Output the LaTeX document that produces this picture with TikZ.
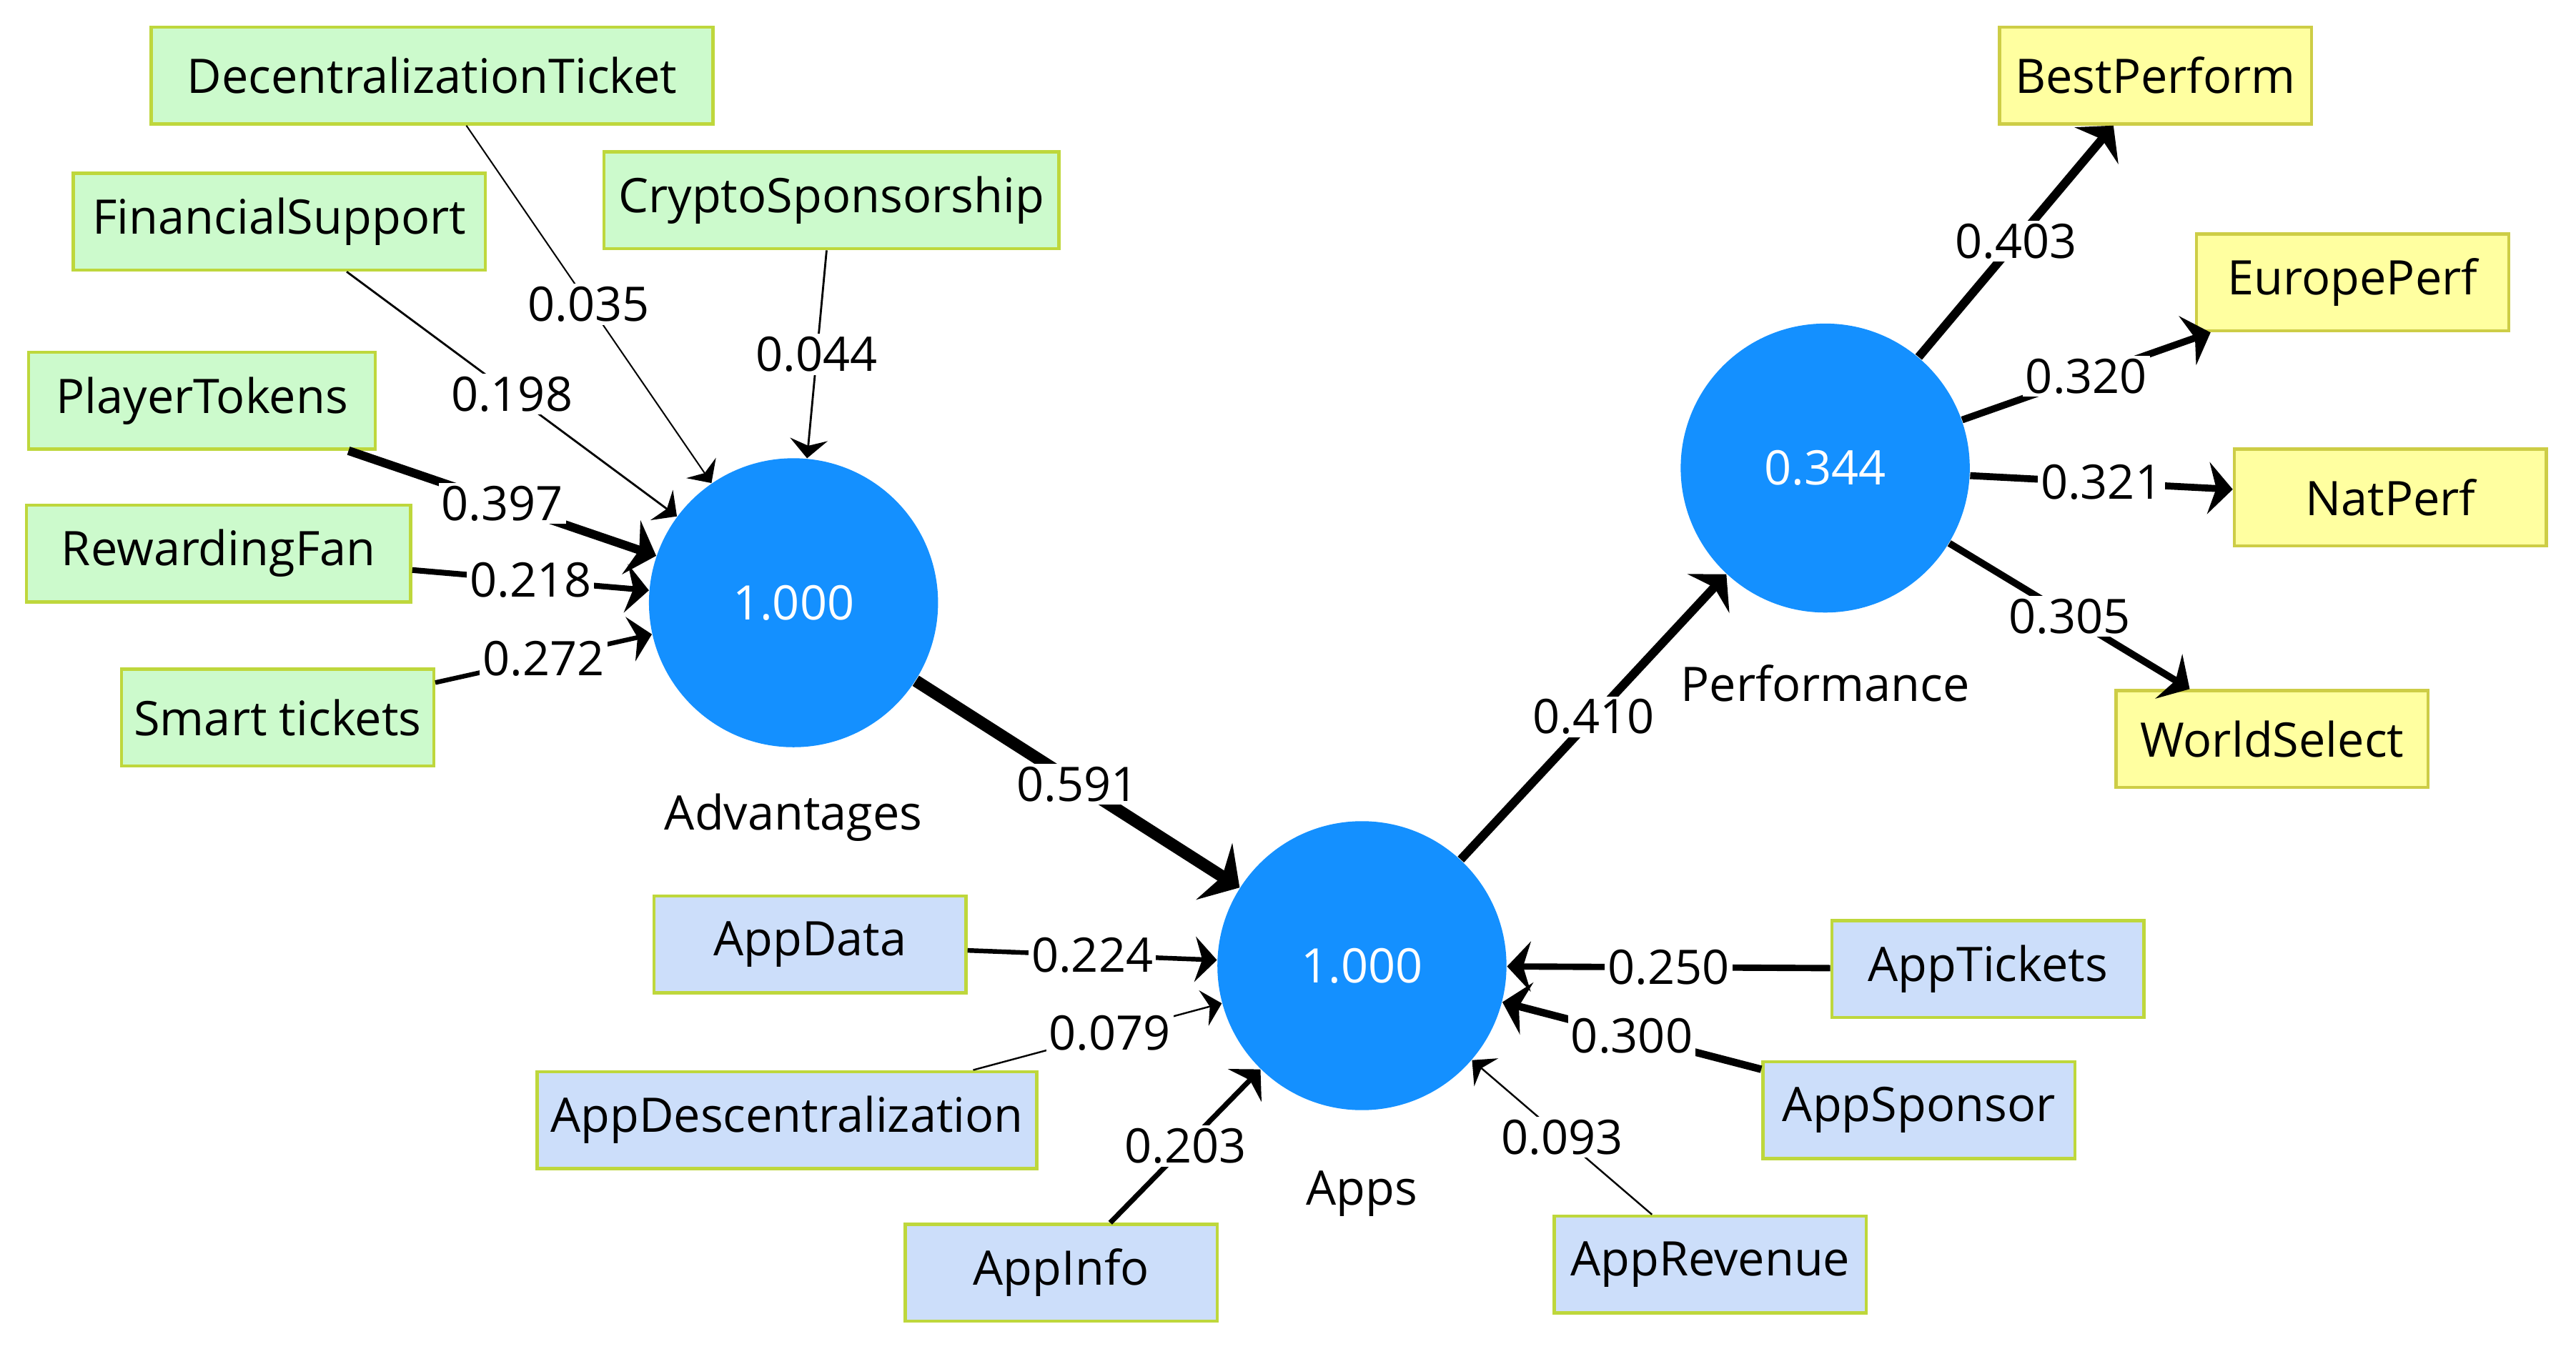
\documentclass[tikz,border=0pt]{standalone}
\usepackage{fontspec}
\setmainfont{Open Sans}
\usepackage{tikz}
\usetikzlibrary{arrows.meta}
\definecolor{latentblue}{RGB}{20,144,255}
\definecolor{advgreen}{RGB}{204,250,204}
\definecolor{appblue}{RGB}{204,222,250}
\definecolor{perfyellow}{RGB}{255,255,160}
\definecolor{boxedge}{RGB}{190,215,60}
\definecolor{perfedge}{RGB}{205,205,70}

\begin{document}
\begin{tikzpicture}[x=0.02cm, y=0.02cm,
  font=\fontsize{16.5}{20}\selectfont,
  item/.style={draw=boxedge, line width=1.1pt, minimum width=#1, minimum height=1.18cm, inner xsep=0.1cm},
  item/.default=3.8cm,
  latent/.style={circle, fill=latentblue, text=white, minimum size=3.52cm, inner sep=0pt},
  lnk/.style={line width=#1, -{Stealth[length=5.8pt 1.1, width=11pt 2.9, inset=2pt 0.3]}},
  wt/.style={fill=white, inner sep=1pt}]
  \useasboundingbox (0,0) rectangle (1568,827.5);

  % Constructs
  \node[latent] (adv) at (483,460.5) {1.000};
  \node[latent] (apps) at (829,239.5) {1.000};
  \node[latent] (perf) at (1111,542.5) {0.344};
  \node (advname) at (483,329.5) {Advantages};
  \node (appsname) at (829,100.5) {Apps};
  \node (perfname) at (1111,411.5) {Performance};

  % Advantages indicators
  \node[item=6.84cm, fill=advgreen] (dec) at (263,781.5) {DecentralizationTicket};
  \node[item=5.02cm, fill=advgreen] (fin) at (170,692.5) {FinancialSupport};
  \node[item=5.54cm, fill=advgreen] (cry) at (506,705.5) {CryptoSponsorship};
  \node[item=4.22cm, fill=advgreen] (ply) at (123,583.5) {PlayerTokens};
  \node[item=4.68cm, fill=advgreen] (rew) at (133,490.5) {RewardingFan};
  \node[item, fill=advgreen] (smt) at (169,390.5) {Smart tickets};

  % Apps indicators
  \node[item, fill=appblue] (adata) at (493,252.5) {AppData};
  \node[item=6.08cm, fill=appblue] (adesc) at (479,145.5) {AppDescentralization};
  \node[item, fill=appblue] (ainfo) at (646,52.5) {AppInfo};
  \node[item, fill=appblue] (atick) at (1210,237.5) {AppTickets};
  \node[item, fill=appblue] (aspon) at (1168,151.5) {AppSponsor};
  \node[item, fill=appblue] (arev) at (1041,57.5) {AppRevenue};

  % Performance indicators
  \node[item, draw=perfedge, fill=perfyellow] (best) at (1312,781.5) {BestPerform};
  \node[item, draw=perfedge, fill=perfyellow] (eur) at (1432,655.5) {EuropePerf};
  \node[item, draw=perfedge, fill=perfyellow] (nat) at (1455,524.5) {NatPerf};
  \node[item, draw=perfedge, fill=perfyellow] (wld) at (1383,377.5) {WorldSelect};

  % Outer weights into Advantages
  \draw[lnk=0.5pt] (dec) -- node[wt] {0.035} (adv);
  \draw[lnk=0.7pt] (fin) -- node[wt] {0.198} (adv);
  \draw[lnk=0.7pt] (cry) -- node[wt] {0.044} (adv);
  \draw[lnk=3pt] (ply) -- node[wt] {0.397} (adv);
  \draw[lnk=2pt] (rew) -- node[wt] {0.218} (adv);
  \draw[lnk=1.6pt] (smt) -- node[wt] {0.272} (adv);

  % Outer weights into Apps
  \draw[lnk=1.6pt] (adata) -- node[wt] {0.224} (apps);
  \draw[lnk=0.6pt] (adesc) -- node[wt, pos=0.55] {0.079} (apps);
  \draw[lnk=1.8pt] (ainfo) -- node[wt] {0.203} (apps);
  \draw[lnk=2.2pt] (atick) -- node[wt] {0.250} (apps);
  \draw[lnk=2.6pt] (aspon) -- node[wt] {0.300} (apps);
  \draw[lnk=0.6pt] (arev) -- node[wt] {0.093} (apps);

  % Inner paths
  \draw[lnk=4.2pt] (adv) -- node[wt] {0.591} (apps);
  \draw[lnk=3pt] (apps) -- node[wt] {0.410} (perf);

  % Loadings of Performance
  \draw[lnk=3pt] (perf) -- node[wt] {0.403} (best);
  \draw[lnk=2.4pt] (perf) -- node[wt] {0.320} (eur);
  \draw[lnk=2.4pt] (perf) -- node[wt] {0.321} (nat);
  \draw[lnk=2.4pt] (perf) -- node[wt] {0.305} (wld);
\end{tikzpicture}
\end{document}
